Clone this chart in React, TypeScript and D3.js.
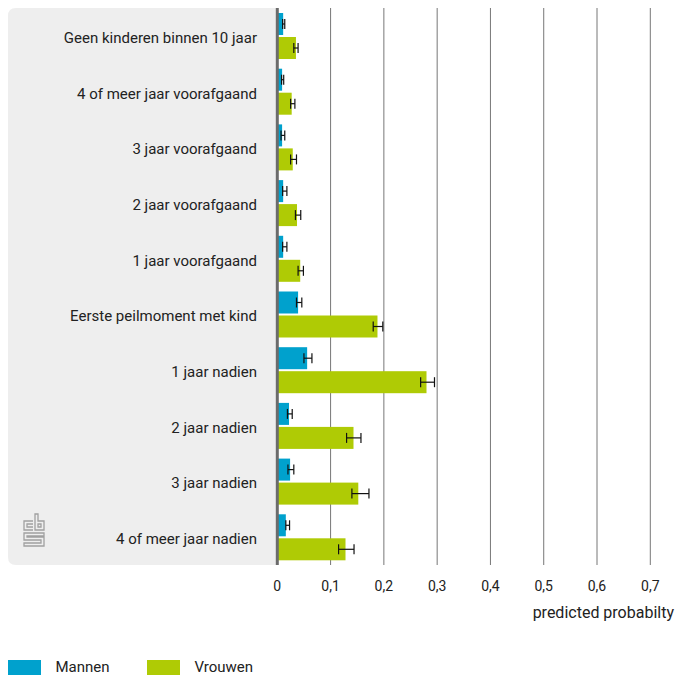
import React from "react";
import * as d3 from "d3";

const categories = [
  "Geen kinderen binnen 10 jaar",
  "4 of meer jaar voorafgaand",
  "3 jaar voorafgaand",
  "2 jaar voorafgaand",
  "1 jaar voorafgaand",
  "Eerste peilmoment met kind",
  "1 jaar nadien",
  "2 jaar nadien",
  "3 jaar nadien",
  "4 of meer jaar nadien",
];
const seriesNames = ["Mannen", "Vrouwen"];
const mannen = [0.011, 0.009, 0.009, 0.011, 0.011, 0.039, 0.056, 0.022, 0.024, 0.016];
const mannenLo = [0.010, 0.008, 0.007, 0.010, 0.010, 0.036, 0.050, 0.019, 0.020, 0.016];
const mannenHi = [0.014, 0.012, 0.014, 0.018, 0.018, 0.046, 0.065, 0.028, 0.031, 0.023];
const vrouwen = [0.035, 0.027, 0.029, 0.037, 0.043, 0.188, 0.280, 0.143, 0.152, 0.128];
const vrouwenLo = [0.031, 0.025, 0.025, 0.034, 0.039, 0.180, 0.269, 0.130, 0.140, 0.115];
const vrouwenHi = [0.039, 0.033, 0.036, 0.044, 0.049, 0.198, 0.295, 0.157, 0.172, 0.144];
const ticks = [0, 0.1, 0.2, 0.3, 0.4, 0.5, 0.6, 0.7];
const xTitle = "predicted probabilty";
const colors = ["#00a1cd", "#afcb05"];

const W = 677;
const H = 675;
const FONT = "Roboto, 'Noto Sans', sans-serif";

export default function App() {
  const x = d3.scaleLinear().domain([0, 0.7]).range([277.3, 650.3]);
  const y = d3.scaleBand<string>().domain(categories).range([8, 565]);
  const ys = d3.scaleBand<string>().domain(seriesNames).range([5, 51]).paddingInner(2 / 24);
  const fmt = (v: number) => d3.format(".1~f")(v).replace(".", ",");
  const values = [mannen, vrouwen];
  const los = [mannenLo, vrouwenLo];
  const his = [mannenHi, vrouwenHi];
  const r = 8;
  const px = 8, py = 8, pw = 277.3 - 8, ph = 557;
  const panel = `M${px + pw},${py} H${px + r} Q${px},${py} ${px},${py + r} V${py + ph - r} Q${px},${py + ph} ${px + r},${py + ph} H${px + pw} Z`;

  return (
    <svg width={W} height={H} style={{ position: "absolute", left: 0, top: 0 }} fontFamily={FONT}>
      <path d={panel} fill="#eeeeee" />
      {ticks.slice(1).map((t) => (
        <line key={t} x1={x(t)} x2={x(t)} y1={8} y2={565} stroke="#777" strokeWidth={1} />
      ))}
      {categories.map((c, i) => (
        <g key={c} transform={`translate(0,${y(c)})`}>
          {seriesNames.map((s, j) => {
            const by = ys(s)!;
            const bh = ys.bandwidth();
            const cy = by + bh / 2;
            return (
              <g key={s}>
                <rect x={x(0)} y={by} width={x(values[j][i]) - x(0)} height={bh} fill={colors[j]} />
                <line x1={x(los[j][i])} x2={x(his[j][i])} y1={cy} y2={cy} stroke="#111" strokeWidth={1.2} />
                <line x1={x(los[j][i])} x2={x(los[j][i])} y1={cy - 5} y2={cy + 5} stroke="#111" strokeWidth={1.2} />
                <line x1={x(his[j][i])} x2={x(his[j][i])} y1={cy - 5} y2={cy + 5} stroke="#111" strokeWidth={1.2} />
              </g>
            );
          })}
          <text x={257} y={y.bandwidth() / 2 + 7} textAnchor="end" fontSize={15} fill="#222">
            {c}
          </text>
        </g>
      ))}
      <line x1={x(0)} x2={x(0)} y1={8} y2={565} stroke="#6b6b6b" strokeWidth={3} />
      {ticks.map((t) => (
        <text key={t} x={x(t)} y={591} textAnchor="middle" fontSize={14} fill="#222">
          {fmt(t)}
        </text>
      ))}
      <text x={674} y={617.5} textAnchor="end" fontSize={16} fill="#222">
        {xTitle}
      </text>
      {seriesNames.map((s, j) => (
        <g key={s} transform={`translate(${j === 0 ? 8 : 147},660)`}>
          <rect x={0} y={0} width={33} height={16} fill={colors[j]} />
          <text x={47.5} y={12} fontSize={15} fill="#222">
            {s}
          </text>
        </g>
      ))}
      <g transform="translate(23,513)" fill="none" stroke="#a0a0a0" strokeWidth={1.3}>
        <path d="M10,8 H1 V17 H10 M10,11 H4 V14 H10" />
        <path d="M12,1 H15 V8 H21 V17 H12 Z M15,11 H18 V14 H15 Z" />
        <path d="M21,20 H1 V27 H18 V30 H1 V33 H21 V24 H4 V23 H21 Z" />
      </g>
    </svg>
  );
}
